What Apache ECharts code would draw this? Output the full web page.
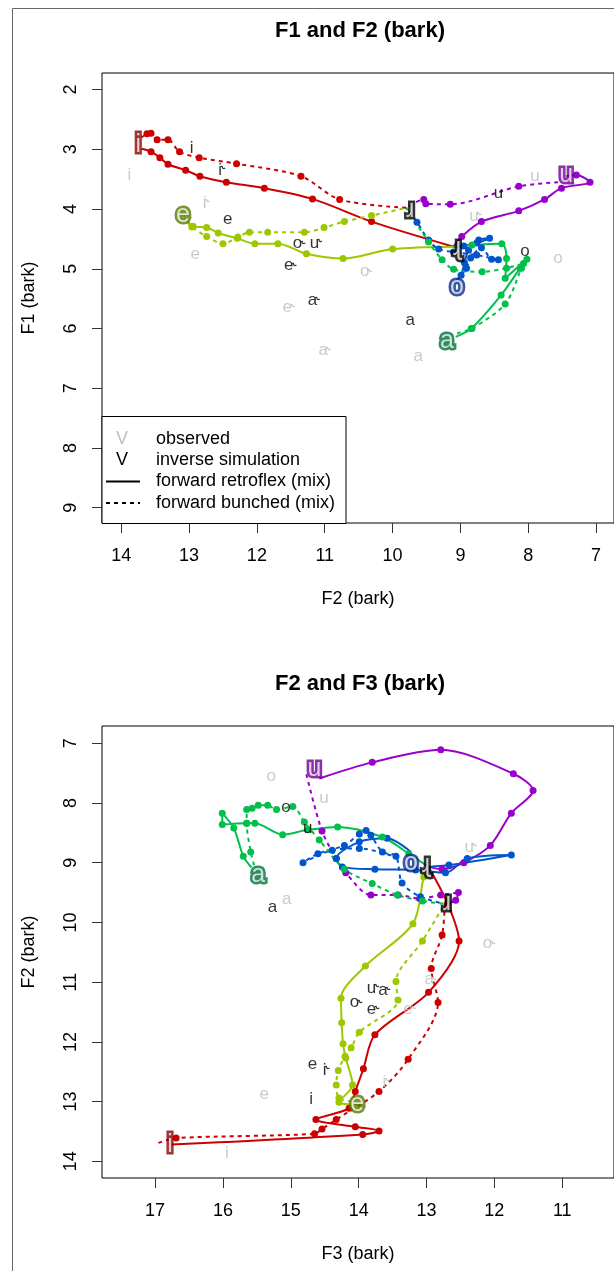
<!DOCTYPE html>
<html>
<head>
<meta charset="utf-8">
<script src="https://cdn.jsdelivr.net/npm/echarts@6/dist/echarts.min.js"></script>
<style>
  html, body { margin: 0; padding: 0; background: #fff; }
  #chart { width: 614px; height: 1271px; }
</style>
</head>
<body>
<div id="chart"></div>
<script>
const FONT = '"Liberation Sans", Arial, "DejaVu Sans", sans-serif';

// ---- F1 / F2 panel: trajectories as [F2, F1] in bark ----
const f12RetroI = [[13.70,2.99],[13.56,3.04],[13.43,3.14],[13.31,3.25],[13.05,3.35],[12.84,3.45],[12.45,3.55],[11.89,3.65],[11.18,3.83],[10.31,4.21],[9.10,4.63]];
const f12BunchI = [[13.70,2.80],[13.62,2.74],[13.56,2.73],[13.47,2.84],[13.31,2.84],[13.14,3.04],[12.85,3.14],[12.30,3.24],[11.35,3.45],[10.78,3.84],[9.80,3.98]];
const f12RetroE = [[13.01,4.21],[12.94,4.29],[12.74,4.31],[12.57,4.40],[12.29,4.49],[12.03,4.58],[11.69,4.58],[11.27,4.75],[10.73,4.83],[10.00,4.67],[9.10,4.63]];
const f12BunchE = [[13.03,4.22],[12.96,4.30],[12.74,4.46],[12.50,4.58],[12.28,4.47],[12.11,4.39],[11.84,4.39],[11.30,4.39],[11.01,4.31],[10.71,4.21],[10.31,4.11],[9.80,3.98]];
const f12RetroU = [[7.44,3.45],[7.29,3.43],[7.09,3.55],[7.51,3.65],[7.76,3.84],[8.14,4.03],[8.69,4.21],[8.98,4.46],[9.10,4.63]];
const f12BunchU = [[7.56,3.55],[8.14,3.62],[9.15,3.92],[9.51,3.91],[9.54,3.84],[9.80,3.98]];
const f12RetroO = [[9.05,5.19],[8.99,5.11],[8.94,4.90],[8.88,4.69],[8.73,4.52],[8.57,4.49],[8.76,4.57],[8.95,4.62],[9.10,4.63]];
const f12BunchO = [[9.05,5.19],[8.91,4.99],[8.85,4.82],[8.69,4.65],[8.54,4.84],[8.44,4.85],[8.76,4.77],[9.10,4.72],[9.32,4.67],[9.47,4.52],[9.64,4.22],[9.80,3.98]];
const f12RetroA = [[9.07,6.14],[8.84,6.00],[8.40,5.44],[8.12,4.99],[8.02,4.84],[8.34,5.16],[8.32,4.83],[8.39,4.58],[8.83,4.60],[9.10,4.63]];
const f12BunchA = [[9.05,6.08],[8.83,6.00],[8.34,5.59],[8.10,4.99],[8.07,4.91],[8.32,4.99],[8.68,5.05],[9.10,5.01],[9.27,4.85],[9.47,4.55],[9.80,3.98]];

// ---- F2 / F3 panel: trajectories as [F3, F2] in bark ----
const f23RetroI = [[16.76,13.72],[13.94,13.55],[13.70,13.49],[14.05,13.42],[14.63,13.30],[14.14,13.11],[14.05,12.83],[13.93,12.45],[13.76,11.88],[12.97,11.17],[12.52,10.31],[12.69,9.68],[12.97,9.07]];
const f23BunchI = [[16.95,13.69],[16.69,13.61],[14.65,13.54],[14.54,13.46],[14.33,13.30],[13.70,12.83],[13.27,12.29],[12.83,11.34],[12.93,10.77],[12.77,10.21],[12.73,9.69]];
const f23RetroE = [[14.02,13.05],[14.29,13.01],[14.09,12.72],[14.19,12.27],[14.23,12.03],[14.25,11.68],[14.26,11.27],[13.90,10.73],[13.20,10.02],[13.04,9.24],[12.97,9.07]];
const f23BunchE = [[14.10,13.00],[14.29,12.94],[14.33,12.72],[14.30,12.48],[14.20,12.24],[14.11,12.10],[13.99,11.84],[13.42,11.30],[13.45,10.99],[13.06,10.31],[12.73,9.69]];
const f23RetroU = [[14.58,7.59],[13.80,7.32],[12.79,7.11],[11.72,7.51],[11.43,7.79],[11.75,8.17],[12.06,8.71],[12.45,9.00],[12.77,9.11],[12.97,9.07]];
const f23BunchU = [[14.77,7.52],[14.54,8.47],[14.33,8.93],[14.19,9.17],[13.82,9.54],[13.42,9.54],[13.10,9.60],[12.79,9.54],[12.53,9.50],[12.57,9.63],[12.73,9.69]];
const f23RetroO = [[13.23,8.82],[13.58,8.59],[13.99,8.65],[14.33,8.93],[14.24,9.07],[13.76,9.11],[13.16,9.12],[12.72,9.17],[12.40,8.93],[11.75,8.87],[12.67,9.04],[12.97,9.07]];
const f23BunchO = [[13.41,8.92],[13.99,8.76],[14.39,8.79],[14.82,9.00],[14.60,8.85],[14.21,8.71],[13.99,8.52],[13.89,8.46],[13.82,8.54],[13.65,8.82],[13.45,8.89],[13.36,9.34],[13.09,9.57],[12.73,9.69]];
const f23RetroA = [[15.58,9.08],[15.70,8.89],[15.84,8.42],[16.01,8.17],[16.01,8.36],[15.65,8.34],[15.53,8.34],[15.12,8.53],[14.75,8.45],[14.31,8.40],[13.65,8.57],[13.26,8.85],[12.97,9.07]];
const f23BunchA = [[15.54,9.04],[15.59,8.82],[15.65,8.34],[15.65,8.11],[15.57,8.09],[15.48,8.04],[15.34,8.04],[15.21,8.11],[14.97,8.06],[14.80,8.32],[14.58,8.62],[14.21,9.11],[13.80,9.35],[13.43,9.54],[13.06,9.64],[12.73,9.69]];

// ---- vowel labels: [text, x, y] ----
const f12Observed = [['i',13.88,3.43],['i˞',12.73,3.91],['e',12.91,4.75],['e˞',11.51,5.64],['a˞',10.98,6.36],['o˞',10.37,5.05],['u˞',8.76,4.12],['u',7.90,3.46],['o',7.56,4.83],['a',9.62,6.47]];
const f12Inverse = [['i',12.96,2.99],['i˞',12.50,3.35],['e',12.43,4.17],['e˞',11.49,4.94],['o˞',11.36,4.57],['u˞',11.11,4.57],['a˞',11.14,5.52],['u',8.44,3.73],['o',8.05,4.70],['a',9.74,5.86]];
const f12Targets = [['i',13.75,2.93],['e',13.09,4.10],['u',7.44,3.43],['o',9.05,5.31],['a',9.20,6.21],['ɹ',9.74,4.02],['ɻ',9.05,4.66]];

const f23Observed = [['o',15.29,7.55],['u',14.51,7.93],['u˞',12.33,8.74],['a',15.06,9.61],['o˞',12.06,10.35],['a˞',12.92,10.95],['e˞',13.23,11.45],['i˞',13.58,12.68],['e',15.39,12.88],['i',15.94,13.86]];
const f23Inverse = [['a',15.27,9.74],['o',15.07,8.07],['u',14.75,8.43],['u˞',13.77,11.10],['a˞',13.60,11.13],['o˞',14.02,11.34],['e˞',13.77,11.45],['e',14.68,12.38],['i˞',14.46,12.47],['i',14.70,12.96]];
const f23Targets = [['i',16.78,13.72],['e',14.02,13.05],['u',14.65,7.43],['o',13.23,9.01],['a',15.48,9.21],['ɻ',13.01,9.04],['ɹ',12.70,9.68]];

// ---- tick labels ----
const f12XTicks = [7, 8, 9, 10, 11, 12, 13, 14];
const f12YTicks = [2, 3, 4, 5, 6, 7, 8, 9];
const f23XTicks = [11, 12, 13, 14, 15, 16, 17];
const f23YTicks = [7, 8, 9, 10, 11, 12, 13, 14];

const lineColor = { i: '#CC0000', e: '#9CC800', u: '#9900CC', o: '#0055CC', a: '#00C04B' };
const haloColor = { i: '#8B0000', e: '#5A7A00', u: '#6A0090', o: '#0A2D8A', a: '#00703A', 'ɹ': '#000', 'ɻ': '#000' };

function trajectory(points, vowel, dashed, idx) {
  const c = lineColor[vowel];
  return {
    type: 'line', xAxisIndex: idx, yAxisIndex: idx,
    data: points.map((p, k) => (k === 0 || k === points.length - 1) ? { value: p, symbolSize: 0 } : p),
    smooth: 0.3, symbol: 'circle', symbolSize: 7, showSymbol: true,
    lineStyle: { color: c, width: 2, type: dashed ? [4, 4] : 'solid' },
    itemStyle: { color: c }, z: 2, silent: true
  };
}

function textLayer(list, idx, color, z) {
  return {
    type: 'scatter', xAxisIndex: idx, yAxisIndex: idx, symbolSize: 0, z: z, silent: true,
    data: list.map(([t, x, y]) => ({ name: t, value: [x, y] })),
    label: { show: true, position: 'inside', formatter: '{b}', color: color, fontSize: 17, fontFamily: FONT }
  };
}

// start/target vowels: a dark halo underneath, white letter on top
function targetLayers(list, idx) {
  const halo = {
    type: 'scatter', xAxisIndex: idx, yAxisIndex: idx, symbolSize: 0, z: 6, silent: true,
    data: list.map(([t, x, y]) => ({
      name: t, value: [x, y],
      label: { color: haloColor[t], textBorderColor: haloColor[t] }
    })),
    label: { show: true, position: 'inside', formatter: '{b}', fontSize: 25,
      fontFamily: FONT, textBorderWidth: 5 }
  };
  const face = {
    type: 'scatter', xAxisIndex: idx, yAxisIndex: idx, symbolSize: 0, z: 7, silent: true,
    data: list.map(([t, x, y]) => ({ name: t, value: [x, y] })),
    label: { show: true, position: 'inside', formatter: '{b}', color: '#fff', fontSize: 25,
      fontFamily: FONT, textBorderWidth: 0 }
  };
  return [halo, face];
}

function xAxisDef(idx, min, max, ticks, name) {
  return {
    type: 'value', gridIndex: idx, inverse: true, min: min, max: max,
    name: name, nameLocation: 'middle', nameGap: 67,
    nameTextStyle: { fontSize: 18, fontFamily: FONT, color: '#000' },
    axisLine: { show: false }, splitLine: { show: false },
    axisTick: { show: true, length: 10, customValues: ticks, lineStyle: { color: '#333' } },
    axisLabel: { customValues: ticks, margin: 24, fontSize: 18, fontFamily: FONT, color: '#000' }
  };
}

function yAxisDef(idx, min, max, ticks, name) {
  return {
    type: 'value', gridIndex: idx, inverse: true, min: min, max: max,
    name: name, nameLocation: 'middle', nameGap: 64, nameRotate: 90,
    nameTextStyle: { fontSize: 18, fontFamily: FONT, color: '#000' },
    axisLine: { show: false }, splitLine: { show: false },
    axisTick: { show: true, length: 10, customValues: ticks, lineStyle: { color: '#333' } },
    axisLabel: { customValues: ticks, rotate: 90, margin: 22, fontSize: 18, fontFamily: FONT, color: '#000' }
  };
}

const series = [
  trajectory(f12RetroI, 'i', false, 0), trajectory(f12BunchI, 'i', true, 0),
  trajectory(f12RetroE, 'e', false, 0), trajectory(f12BunchE, 'e', true, 0),
  trajectory(f12RetroU, 'u', false, 0), trajectory(f12BunchU, 'u', true, 0),
  trajectory(f12RetroO, 'o', false, 0), trajectory(f12BunchO, 'o', true, 0),
  trajectory(f12RetroA, 'a', false, 0), trajectory(f12BunchA, 'a', true, 0),
  textLayer(f12Observed, 0, '#BDBDBD', 4), textLayer(f12Inverse, 0, '#000', 5),
  ...targetLayers(f12Targets, 0),
  trajectory(f23RetroI, 'i', false, 1), trajectory(f23BunchI, 'i', true, 1),
  trajectory(f23RetroE, 'e', false, 1), trajectory(f23BunchE, 'e', true, 1),
  trajectory(f23RetroU, 'u', false, 1), trajectory(f23BunchU, 'u', true, 1),
  trajectory(f23RetroO, 'o', false, 1), trajectory(f23BunchO, 'o', true, 1),
  trajectory(f23RetroA, 'a', false, 1), trajectory(f23BunchA, 'a', true, 1),
  textLayer(f23Observed, 1, '#BDBDBD', 4), textLayer(f23Inverse, 1, '#000', 5),
  ...targetLayers(f23Targets, 1)
];

const legendRows = [
  { key: 'V', keyColor: '#BDBDBD', text: 'observed', y: 439 },
  { key: 'V', keyColor: '#000', text: 'inverse simulation', y: 460 },
  { line: 'solid', text: 'forward retroflex (mix)', y: 481.5 },
  { line: 'dashed', text: 'forward bunched (mix)', y: 503 }
];

const legendGraphics = [{
  type: 'rect', shape: { x: 102, y: 416.5, width: 244, height: 107 },
  style: { fill: '#fff', stroke: '#000', lineWidth: 1 }, z: 20
}];
legendRows.forEach(r => {
  if (r.key) {
    legendGraphics.push({ type: 'text', x: 122, y: r.y, z: 21,
      style: { text: r.key, fill: r.keyColor, fontSize: 18, fontFamily: FONT, align: 'center', verticalAlign: 'middle' } });
  } else {
    legendGraphics.push({ type: 'line', z: 21, shape: { x1: 106, y1: r.y, x2: 140, y2: r.y },
      style: { stroke: '#000', lineWidth: 2, lineDash: r.line === 'dashed' ? [4, 4] : null } });
  }
  legendGraphics.push({ type: 'text', x: 156, y: r.y, z: 21,
    style: { text: r.text, fill: '#000', fontSize: 18, fontFamily: FONT, align: 'left', verticalAlign: 'middle' } });
});

const chart = echarts.init(document.getElementById('chart'), null, { renderer: 'canvas' });
chart.setOption({
  animation: false,
  backgroundColor: '#fff',
  grid: [
    { left: 102, top: 73, width: 514, height: 450, show: true, borderColor: '#000', borderWidth: 1, backgroundColor: 'transparent' },
    { left: 102, top: 726, width: 514, height: 452, show: true, borderColor: '#000', borderWidth: 1, backgroundColor: 'transparent' }
  ],
  xAxis: [
    xAxisDef(0, 6.736, 14.283, f12XTicks, 'F2 (bark)'),
    xAxisDef(1, 10.237, 17.782, f23XTicks, 'F3 (bark)')
  ],
  yAxis: [
    yAxisDef(0, 1.722, 9.257, f12YTicks, 'F1 (bark)'),
    yAxisDef(1, 6.711, 14.279, f23YTicks, 'F2 (bark)')
  ],
  series: series,
  graphic: [
    { type: 'rect', shape: { x: 12.5, y: 8.5, width: 800, height: 1400 },
      style: { fill: 'none', stroke: '#666', lineWidth: 1 }, z: 0, silent: true },
    { type: 'text', x: 360, y: 31, z: 10,
      style: { text: 'F1 and F2 (bark)', fill: '#000', fontSize: 22, fontWeight: 'bold', fontFamily: FONT, align: 'center', verticalAlign: 'middle' } },
    { type: 'text', x: 360, y: 684, z: 10,
      style: { text: 'F2 and F3 (bark)', fill: '#000', fontSize: 22, fontWeight: 'bold', fontFamily: FONT, align: 'center', verticalAlign: 'middle' } }
  ].concat(legendGraphics)
});
</script>
</body>
</html>
